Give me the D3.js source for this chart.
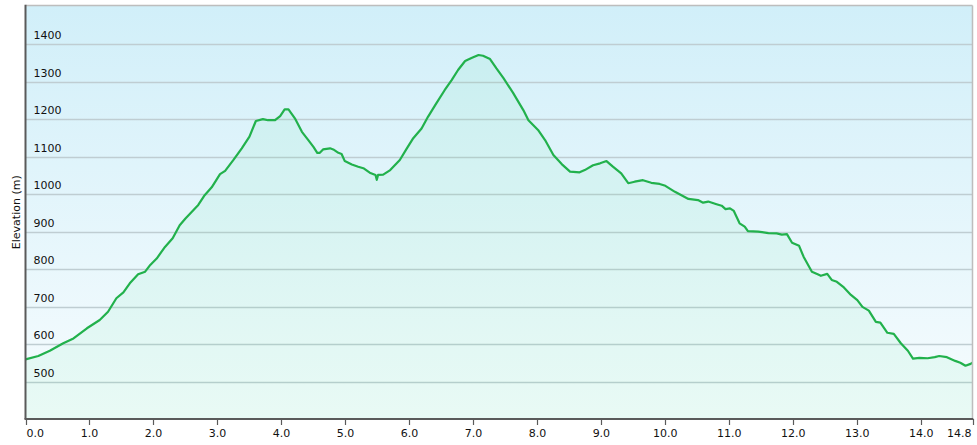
<!DOCTYPE html>
<html>
<head>
<meta charset="utf-8">
<script src="https://cdn.jsdelivr.net/npm/d3@7"></script>
<style>
  body { margin: 0; background: #fff; }
  svg text { font-family: Verdana, "DejaVu Sans", sans-serif; font-size: 11px; fill: #111; }
</style>
</head>
<body>
<div id="chart"></div>
<script>
// distance along the track (km)
var distKm = [0.0, 0.2, 0.38, 0.59, 0.75, 0.96, 1.16, 1.29, 1.42, 1.53, 1.63, 1.76, 1.87, 1.95, 2.05, 2.18, 2.30, 2.41,
  2.50, 2.60, 2.70, 2.80, 2.91, 3.04, 3.12, 3.25, 3.38, 3.50, 3.60, 3.71, 3.79, 3.90, 3.98, 4.05, 4.11, 4.21, 4.32, 4.42,
  4.50, 4.56, 4.60, 4.65, 4.76, 4.81, 4.89, 4.94, 4.99, 5.10, 5.20, 5.28, 5.38, 5.47, 5.49, 5.51, 5.59, 5.70, 5.85, 5.96,
  6.06, 6.19, 6.29, 6.42, 6.55, 6.66, 6.76, 6.87, 6.97, 7.08, 7.15, 7.26, 7.36, 7.47, 7.62, 7.78, 7.86, 8.01, 8.12,
  8.25, 8.38, 8.51, 8.66, 8.74, 8.87, 8.98, 9.08, 9.18, 9.31, 9.42, 9.52, 9.65, 9.78, 9.91, 10.0, 10.15, 10.36, 10.51,
  10.59, 10.67, 10.80, 10.88, 10.94, 11.01, 11.07, 11.16, 11.24, 11.29, 11.45, 11.61, 11.74, 11.82, 11.90, 11.98,
  12.09, 12.16, 12.29, 12.38, 12.43, 12.53, 12.60, 12.68, 12.79, 12.90, 13.0, 13.08, 13.18, 13.29, 13.36, 13.47,
  13.57, 13.68, 13.79, 13.87, 13.97, 14.10, 14.21, 14.28, 14.40, 14.53, 14.61, 14.69, 14.77, 14.8];

// elevation (m)
var elevM = [559, 568, 582, 602, 615, 642, 664, 686, 722, 738, 762, 786, 793, 811, 828, 859, 882, 917,
  935, 953, 971, 997, 1018, 1053, 1062, 1091, 1122, 1153, 1195, 1200, 1197, 1197, 1208, 1226, 1226, 1202, 1166, 1144,
  1126, 1110, 1110, 1119, 1122, 1119, 1110, 1107, 1088, 1079, 1073, 1069, 1057, 1051, 1038, 1051, 1052, 1064, 1091, 1122,
  1149, 1175, 1206, 1242, 1277, 1304, 1331, 1355, 1363, 1371, 1369, 1360, 1335, 1309, 1270, 1224, 1197, 1171, 1144,
  1104, 1080, 1060, 1058, 1064, 1077, 1082, 1088, 1073, 1055, 1029, 1033, 1037, 1030, 1027, 1022, 1006, 987, 984,
  977, 980, 973, 969, 960, 962, 955, 922, 913, 901, 900, 896, 895, 892, 893, 870,
  862, 833, 793, 786, 782, 787, 771, 766, 751, 731, 717, 699, 689, 659, 657, 630,
  627, 602, 582, 561, 563, 562, 565, 568, 565, 555, 550, 542, 547, 550];

var yTicks = [500, 600, 700, 800, 900, 1000, 1100, 1200, 1300, 1400];
var xTicks = [0, 1, 2, 3, 4, 5, 6, 7, 8, 9, 10, 11, 12, 13, 14, 14.8];

(function () {
  var data = distKm.map(function (d, i) { return { d: d, e: elevM[i] }; });

  var W = 977, H = 445;
  var pl = 25.5, pr = 972.5, pt = 5.5, pb = 419;

  var svg = d3.select("#chart").append("svg")
    .attr("width", W).attr("height", H);

  var defs = svg.append("defs");
  var bg = defs.append("linearGradient").attr("id", "bg")
    .attr("x1", 0).attr("y1", 0).attr("x2", 0).attr("y2", 1);
  bg.append("stop").attr("offset", "0%").attr("stop-color", "#d1eff9");
  bg.append("stop").attr("offset", "100%").attr("stop-color", "#f7fcfe");

  var x = d3.scaleLinear().domain([0, 14.8]).range([pl, pr]);
  var y = d3.scaleLinear().domain([400, 1503]).range([pb, pt]);

  // plot background
  svg.append("rect")
    .attr("x", pl).attr("y", pt)
    .attr("width", pr - pl).attr("height", pb - pt)
    .attr("fill", "url(#bg)");

  // horizontal grid
  svg.append("g").selectAll("line")
    .data(yTicks).enter().append("line")
    .attr("x1", pl).attr("x2", pr)
    .attr("y1", function (d) { return Math.round(y(d)) + 0.5; })
    .attr("y2", function (d) { return Math.round(y(d)) + 0.5; })
    .attr("stroke", "#bfcdd2").attr("stroke-width", 1.5);

  // area under the profile
  var area = d3.area()
    .x(function (d) { return x(d.d); })
    .y0(pb)
    .y1(function (d) { return y(d.e); });

  svg.append("path")
    .datum(data)
    .attr("d", area)
    .attr("fill", "rgba(50,220,120,0.065)");

  var line = d3.line()
    .x(function (d) { return x(d.d); })
    .y(function (d) { return y(d.e); });

  svg.append("path")
    .datum(data)
    .attr("d", line)
    .attr("fill", "none")
    .attr("stroke", "#22b14c")
    .attr("stroke-width", 2.2)
    .attr("stroke-linejoin", "round");

  // frame: light top/right, dark left/bottom
  svg.append("line").attr("x1", pl).attr("x2", pr).attr("y1", pt).attr("y2", pt)
    .attr("stroke", "#bdbdbd").attr("stroke-width", 1.5);
  svg.append("line").attr("x1", pr).attr("x2", pr).attr("y1", pt).attr("y2", pb)
    .attr("stroke", "#bdbdbd").attr("stroke-width", 1.5);
  svg.append("line").attr("x1", pl).attr("x2", pl).attr("y1", pt - 0.75).attr("y2", pb)
    .attr("stroke", "#5a5a5a").attr("stroke-width", 2);
  svg.append("line").attr("x1", pl - 1).attr("x2", pr + 0.75).attr("y1", pb).attr("y2", pb)
    .attr("stroke", "#5a5a5a").attr("stroke-width", 2);

  // y labels inside plot
  svg.append("g").selectAll("text")
    .data(yTicks).enter().append("text")
    .attr("x", pl + 8)
    .attr("y", function (d) { return y(d) - 5; })
    .text(function (d) { return d; });

  // x ticks and labels
  var xa = svg.append("g");
  xa.selectAll("line").data(xTicks).enter().append("line")
    .attr("x1", function (d) { return Math.round(x(d)) + 0.5; })
    .attr("x2", function (d) { return Math.round(x(d)) + 0.5; })
    .attr("y1", pb).attr("y2", pb + 6)
    .attr("stroke", "#5a5a5a").attr("stroke-width", 1.2);
  xa.selectAll("text").data(xTicks).enter().append("text")
    .attr("x", function (d, i) {
      if (i === 0) return x(d) + 1;
      if (i === xTicks.length - 1) return x(d) - 1;
      return x(d);
    })
    .attr("y", 437)
    .attr("text-anchor", function (d, i) {
      if (i === 0) return "start";
      if (i === xTicks.length - 1) return "end";
      return "middle";
    })
    .text(function (d) { return d.toFixed(1); });

  // axis title
  svg.append("text")
    .attr("transform", "translate(20," + ((pt + pb) / 2) + ") rotate(-90)")
    .attr("text-anchor", "middle")
    .text("Elevation (m)");
})();
</script>
</body>
</html>
